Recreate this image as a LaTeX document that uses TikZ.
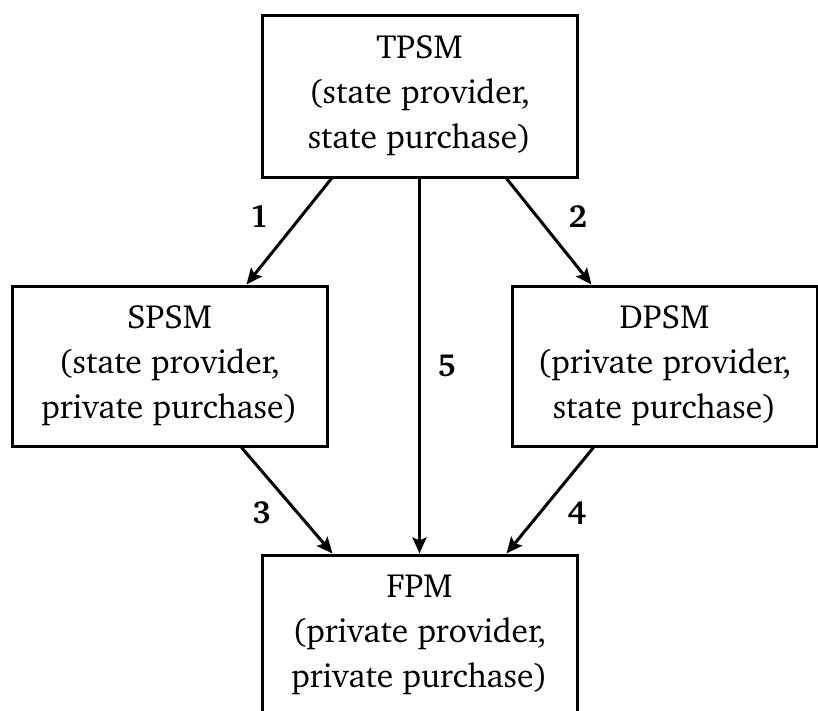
\documentclass[tikz,border=0pt]{standalone}
\usepackage[T1]{fontenc}
\usepackage{charter}
\usetikzlibrary{arrows.meta}

\tikzset{
  market/.style={draw, line width=3pt, minimum width=315pt, minimum height=160pt,
    align=center, font=\fontsize{33.5}{45}\selectfont, inner sep=0pt},
  flow/.style={line width=3pt, -{Stealth[length=16pt,width=14pt,inset=3pt]}},
  flowlabel/.style={font=\fontsize{32}{38}\selectfont\bfseries}
}

\begin{document}
\begin{tikzpicture}[x=1pt, y=-1pt]
  \useasboundingbox (0,0) rectangle (818,710);

  % the four market types
  \node[market, minimum height=162pt] (tpsm) at (419.5,96)
    {TPSM\\(state provider,\\state purchase)};
  \node[market] (spsm) at (169.5,366)
    {SPSM\\(state provider,\\private purchase)};
  \node[market, minimum width=305pt] (dpsm) at (664.5,366)
    {DPSM\\(private provider,\\state purchase)};
  \node[market] (fpm) at (419.5,635)
    {FPM\\(private provider,\\private purchase)};

  % transitions between them
  \draw[flow] ([xshift=71pt]tpsm.south west) -- ([xshift=-82pt]spsm.north east);
  \draw[flow] ([xshift=-72pt]tpsm.south east) -- ([xshift=81pt]dpsm.north west);
  \draw[flow] ([xshift=231pt]spsm.south west) -- ([xshift=72pt]fpm.north west);
  \draw[flow] ([xshift=83pt]dpsm.south west) -- ([xshift=-72pt]fpm.north east);
  \draw[flow] (tpsm.south) -- (fpm.north);

  % path numbers
  \node[flowlabel] (l1) at (259,217) {1};
  \node[flowlabel] (l2) at (578,217) {2};
  \node[flowlabel] (l3) at (262,513) {3};
  \node[flowlabel] (l4) at (577,513) {4};
  \node[flowlabel] (l5) at (447,366) {5};
\end{tikzpicture}
\end{document}
